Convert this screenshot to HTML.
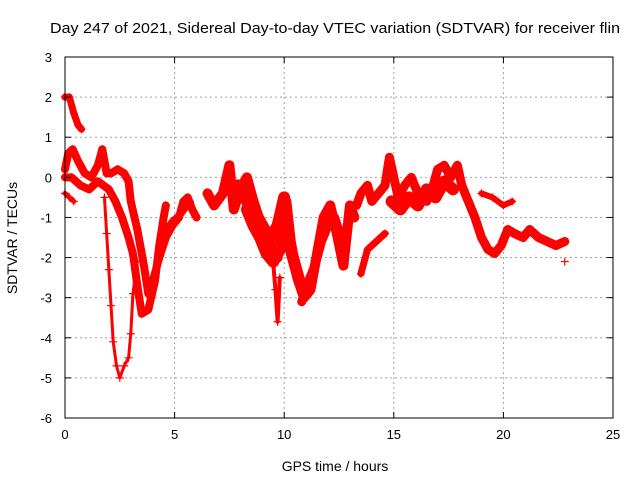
<!DOCTYPE html>
<html><head><meta charset="utf-8"><style>
body{margin:0;background:#fff}
svg{font-family:"Liberation Sans",sans-serif}
</style></head><body>
<svg id="chart" width="640" height="480">
<rect width="640" height="480" fill="#fff"/>
<text x="335" y="33" font-size="15" text-anchor="middle" textLength="570" lengthAdjust="spacingAndGlyphs">Day 247 of 2021, Sidereal Day-to-day VTEC variation (SDTVAR) for receiver flin</text>
<text x="335" y="471" font-size="14" text-anchor="middle">GPS time / hours</text>
<text x="0" y="0" font-size="14" text-anchor="middle" transform="translate(17,238) rotate(-90)">SDTVAR / TECUs</text>
<g id="grid"></g><g id="marks"></g><g id="axes"></g>
</svg>
<script>
const xTicks=[0,5,10,15,20,25];
const yTicks=[3,2,1,0,-1,-2,-3,-4,-5,-6];
const tA=[0,0.2,0.4,0.6,0.75];
const vA=[2.0,2.0,1.6,1.3,1.2];
const tB=[0,0.15,0.35,0.6,0.9,1.2,1.5,1.7,1.9,2.1,2.4,2.7,2.9,3.0,3.3,3.6,3.8,4.0,4.3,4.6,4.9,5.2,5.4,5.6,5.8,6.0];
const vB=[0.2,0.6,0.7,0.4,0.1,0,0.3,0.7,0.1,0.1,0.2,0.1,-0.1,-0.6,-1.3,-2.2,-2.9,-2.6,-2.0,-1.5,-1.2,-1.0,-0.6,-0.5,-0.8,-1.0];
const tC=[0,0.3,0.7,1.1,1.5,2.0,2.3,2.6,2.9,3.1,3.3,3.5,3.8,4.1,4.3,4.5,4.6];
const vC=[0,0,-0.2,-0.3,-0.1,-0.3,-0.6,-1.0,-1.5,-1.9,-2.7,-3.4,-3.3,-2.6,-1.7,-1.0,-0.7];
const tD=[1.8,1.9,2.0,2.1,2.2,2.35,2.5,2.7,2.9,3.0,3.1,3.3];
const vD=[-0.5,-1.4,-2.3,-3.2,-4.1,-4.7,-5.0,-4.7,-4.5,-3.9,-2.9,-2.1];
const tE=[0,0.2,0.4];
const vE=[-0.4,-0.5,-0.6];
const tF=[6.5,6.8,7.2,7.5,7.7,8.0,8.3,8.6,8.9,9.2,9.5,9.7,9.9,10.1,10.3,10.6,10.9,11.2,11.5,11.8,12.1,12.4,12.7,13.0,13.2];
const vF=[-0.4,-0.7,-0.4,0.3,-0.8,-0.3,0,-0.6,-1.1,-1.5,-1.8,-2.0,-1.4,-0.6,-1.6,-2.5,-3.0,-2.8,-1.9,-1.0,-0.7,-1.4,-2.2,-0.7,-1.0];
const tG=[9.4,9.6,9.7,9.8];
const vG=[-1.5,-2.8,-3.6,-2.5];
const tH=[13.3,13.5,13.8,14.0,14.3,14.6,14.8,15.0,15.2,15.5,15.8,16.1,16.5,16.8,17.0,17.3,17.6,17.9,18.1,18.4,18.7,19.0,19.3,19.6,19.9,20.2,20.5,20.9,21.2,21.6,22.0,22.4,22.8];
const vH=[-0.7,-0.4,-0.2,-0.6,-0.4,-0.2,0.5,0,-0.5,-0.2,0,-0.4,-0.6,-0.2,0.2,0.3,0,0.3,-0.2,-0.6,-1.0,-1.5,-1.8,-1.9,-1.7,-1.3,-1.4,-1.5,-1.3,-1.5,-1.6,-1.7,-1.6];
const tI=[13.5,13.8,14.2,14.6];
const vI=[-2.4,-1.8,-1.6,-1.4];
const tJ=[19.0,19.5,20.0,20.4];
const vJ=[-0.4,-0.5,-0.7,-0.6];
const tK=[22.8];
const vK=[-2.1];
const tM1=[7.9,8.2,8.5,8.8,9.1,9.4,9.7,10.0];
const vM1=[-0.2,-0.5,-0.8,-1.0,-1.3,-1.5,-1.2,-0.5];
const tM2=[8.3,8.6,8.9,9.2,9.5,9.8,10.1,10.4,10.7];
const vM2=[-0.8,-1.2,-1.5,-1.9,-2.1,-1.8,-1.4,-2.0,-2.6];
const tM3=[10.8,11.1,11.4,11.7,12.0,12.3,12.6];
const vM3=[-3.1,-2.6,-2.2,-1.6,-1.2,-1.0,-1.5];
const tM4=[14.9,15.3,15.7,16.1,16.5,16.9,17.3,17.7];
const vM4=[-0.6,-0.8,-0.5,-0.7,-0.3,-0.5,-0.1,-0.3];
const tM5=[4.5,4.9,5.3,5.7];
const vM5=[-1.4,-1.1,-0.9,-0.6];
const segT=[tA,tB,tC,tD,tE,tF,tG,tH,tI,tJ,tK,tM1,tM2,tM3,tM4,tM5];
const segV=[vA,vB,vC,vD,vE,vF,vG,vH,vI,vJ,vK,vM1,vM2,vM3,vM4,vM5];
const segW=[7,8,8,3,5,10,4,9,7,6,0,12,12,9,12,7];
const X0=65,X1=613,Y0=57,Y1=418;
const xs=t=>X0+(t-0)/(25-0)*(X1-X0);
const ys=v=>Y0+(3-v)/(3-(-6))*(Y1-Y0);
const NS='http://www.w3.org/2000/svg';
const grid=document.getElementById('grid'),marks=document.getElementById('marks'),axes=document.getElementById('axes');
function mk(tag,attrs,parent){const e=document.createElementNS(NS,tag);for(const k in attrs)e.setAttribute(k,attrs[k]);parent.appendChild(e);return e;}
xTicks.forEach(t=>{const x=xs(t);
 if(t>0&&t<25){const g=mk('line',{x1:x,x2:x,y1:Y0,y2:Y1,stroke:'#a0a0a0','stroke-dasharray':'2,3'},grid);
 
 }
 mk('line',{x1:x,x2:x,y1:Y1,y2:Y1-6,stroke:'#000'},axes);mk('line',{x1:x,x2:x,y1:Y0,y2:Y0+6,stroke:'#000'},axes);
 const l=mk('text',{x:x,y:Y1+21,'font-size':13,'text-anchor':'middle'},axes);l.textContent=t;
 
 
});
yTicks.forEach(v=>{const y=ys(v);
 if(v<3&&v>-6){const g=mk('line',{x1:X0,x2:X1,y1:y,y2:y,stroke:'#a0a0a0','stroke-dasharray':'2,3'},grid);
 
 }
 mk('line',{x1:X0,x2:X0+6,y1:y,y2:y,stroke:'#000'},axes);mk('line',{x1:X1,x2:X1-6,y1:y,y2:y,stroke:'#000'},axes);
 const l=mk('text',{x:X0-13,y:y+5,'font-size':13,'text-anchor':'end'},axes);l.textContent=v;
 
 
});
const fr=mk('rect',{x:X0,y:Y0,width:X1-X0,height:Y1-Y0,fill:'none',stroke:'#000'},axes);


segT.forEach((ts,i)=>{const vs=segV[i];
 const g=mk('g',{},marks);
 
 
 if(ts.length>1){mk('polyline',{points:ts.map((t,j)=>xs(t)+','+ys(vs[j])).join(' '),fill:'none',stroke:'#f00','stroke-width':segW[i],'stroke-linejoin':'round','stroke-linecap':'round'},g);}
 ts.forEach((t,j)=>{const x=xs(t),y=ys(vs[j]);
  const p=mk('path',{d:`M${x-4},${y}H${x+4}M${x},${y-4}V${y+4}`,stroke:'#f00','stroke-width':1.2},g);
  
  
 });
});
</script>
</body></html>
